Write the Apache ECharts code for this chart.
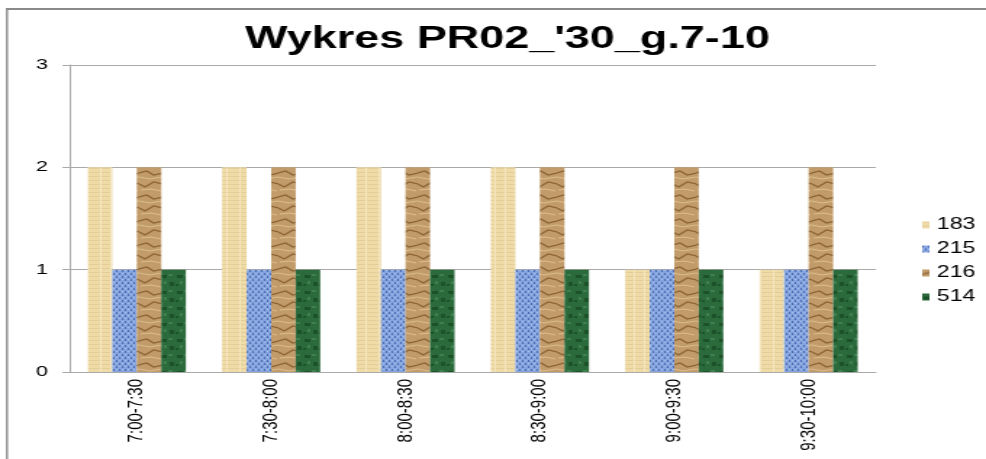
<!DOCTYPE html>
<html>
<head>
<meta charset="utf-8">
<script src="https://cdn.jsdelivr.net/npm/echarts@6/dist/echarts.min.js"></script>
<style>
  html, body { margin: 0; padding: 0; background: #fff; overflow: hidden; }
  /* the source picture is stretched sideways, so the chart is drawn narrow and widened */
  #main { width: 680px; height: 459px; transform: scaleX(1.45); transform-origin: 0 0; }
</style>
</head>
<body>
<div id="main"></div>
<script>
var categories = ['7:00-7:30', '7:30-8:00', '8:00-8:30', '8:30-9:00', '9:00-9:30', '9:30-10:00'];
var seriesNames = ['183', '215', '216', '514'];
var s183 = [2, 2, 2, 2, 1, 1];
var s215 = [1, 1, 1, 1, 1, 1];
var s216 = [2, 2, 2, 2, 2, 2];
var s514 = [1, 1, 1, 1, 1, 1];
var yTicks = [0, 1, 2, 3];

// small texture tiles, drawn by hand so bars look like the office fills
function tile(w, h, draw) {
    var c = document.createElement('canvas');
    c.width = w; c.height = h;
    draw(c.getContext('2d'), w, h);
    return { image: c, repeat: 'repeat' };
}

var fillPaper = tile(16, 12, function (g, w, h) {
    g.fillStyle = '#eedba8'; g.fillRect(0, 0, w, h);
    g.fillStyle = '#e5ce96';
    for (var y = 0; y < h; y += 4) g.fillRect(0, y, w, 1);
    g.fillStyle = '#f5e6bf';
    g.fillRect(5, 0, 1, h); g.fillRect(12, 0, 1, h);
});

var fillDenim = tile(4, 6, function (g, w, h) {
    g.fillStyle = '#85a4de'; g.fillRect(0, 0, w, h);
    g.fillStyle = '#4a6cb5';
    g.fillRect(0, 0, 1, 2); g.fillRect(2, 3, 1, 2);
    g.fillStyle = '#a9c1ee';
    g.fillRect(2, 0, 1, 1); g.fillRect(0, 3, 1, 1);
});

var fillBrown = tile(16, 24, function (g, w, h) {
    g.fillStyle = '#c29b6a'; g.fillRect(0, 0, w, h);
    g.strokeStyle = '#8b6336'; g.lineWidth = 1.2;
    g.beginPath(); g.moveTo(0, 5); g.lineTo(5, 3); g.lineTo(10, 7); g.lineTo(16, 5); g.stroke();
    g.beginPath(); g.moveTo(0, 16); g.lineTo(4, 19); g.lineTo(10, 14); g.lineTo(16, 16); g.stroke();
    g.strokeStyle = '#dcbd8e';
    g.beginPath(); g.moveTo(0, 9); g.lineTo(7, 11); g.lineTo(16, 9); g.stroke();
    g.beginPath(); g.moveTo(1, 22); g.lineTo(8, 21); g.lineTo(15, 23); g.stroke();
});

var fillGreen = tile(11, 16, function (g, w, h) {
    g.fillStyle = '#2b6b3b'; g.fillRect(0, 0, w, h);
    g.fillStyle = '#1d5129';
    g.fillRect(1, 3, 4, 3); g.fillRect(7, 10, 3, 4); g.fillRect(0, 12, 2, 2);
    g.fillStyle = '#3f7f50';
    g.fillRect(6, 2, 3, 2); g.fillRect(3, 9, 2, 3);
});

var fills = [fillPaper, fillDenim, fillBrown, fillGreen];
var values = [s183, s215, s216, s514];

var myChart = echarts.init(document.getElementById('main'));
var series = [];
for (var i = 0; i < seriesNames.length; i++) {
    series.push({
        name: seriesNames[i],
        type: 'bar',
        data: values[i],
        barGap: '0%',
        barCategoryGap: '27%',
        itemStyle: { color: fills[i] }
    });
}

var option = {
    backgroundColor: '#fff',
    animation: false,
    title: {
        text: "Wykres PR02_'30_g.7-10",
        left: 345,
        textAlign: 'center',
        top: 19,
        textStyle: { fontFamily: 'Liberation Sans, Arial', fontWeight: 'bold', fontSize: 31, color: '#000' }
    },
    legend: {
        orient: 'vertical',
        left: 631,
        top: 212,
        itemWidth: 5,
        itemHeight: 7,
        itemGap: 8,
        icon: 'rect',
        textStyle: { fontFamily: 'Liberation Sans, Arial', fontSize: 16, color: '#000', padding: [0, 0, 0, 0] },
        data: seriesNames
    },
    grid: { left: 48, right: 76, top: 65, bottom: 87 },
    xAxis: {
        type: 'category',
        data: categories,
        axisLine: { lineStyle: { color: '#aaa', width: 1 } },
        axisTick: { show: false },
        axisLabel: {
            rotate: 90,
            margin: 7,
            fontFamily: 'Liberation Sans, Arial',
            fontSize: 15,
            color: '#000'
        }
    },
    yAxis: {
        type: 'value',
        min: 0,
        max: 3,
        interval: 1,
        axisLine: { show: true, lineStyle: { color: '#aaa' } },
        axisTick: { show: true, length: 5, lineStyle: { color: '#aaa' } },
        splitLine: { lineStyle: { color: '#aaa' } },
        axisLabel: {
            margin: 15,
            fontFamily: 'Liberation Sans, Arial',
            fontSize: 15,
            color: '#000',
            formatter: function (v) { return yTicks.indexOf(v) >= 0 ? String(v) : ''; }
        }
    },
    graphic: [
        { type: 'line', shape: { x1: 4, y1: 9, x2: 680, y2: 9 }, style: { stroke: '#8a8a8a', lineWidth: 2 } },
        { type: 'line', shape: { x1: 4.8, y1: 9, x2: 4.8, y2: 459 }, style: { stroke: '#8a8a8a', lineWidth: 1.4 } }
    ],
    series: series
};
myChart.setOption(option);
</script>
</body>
</html>
